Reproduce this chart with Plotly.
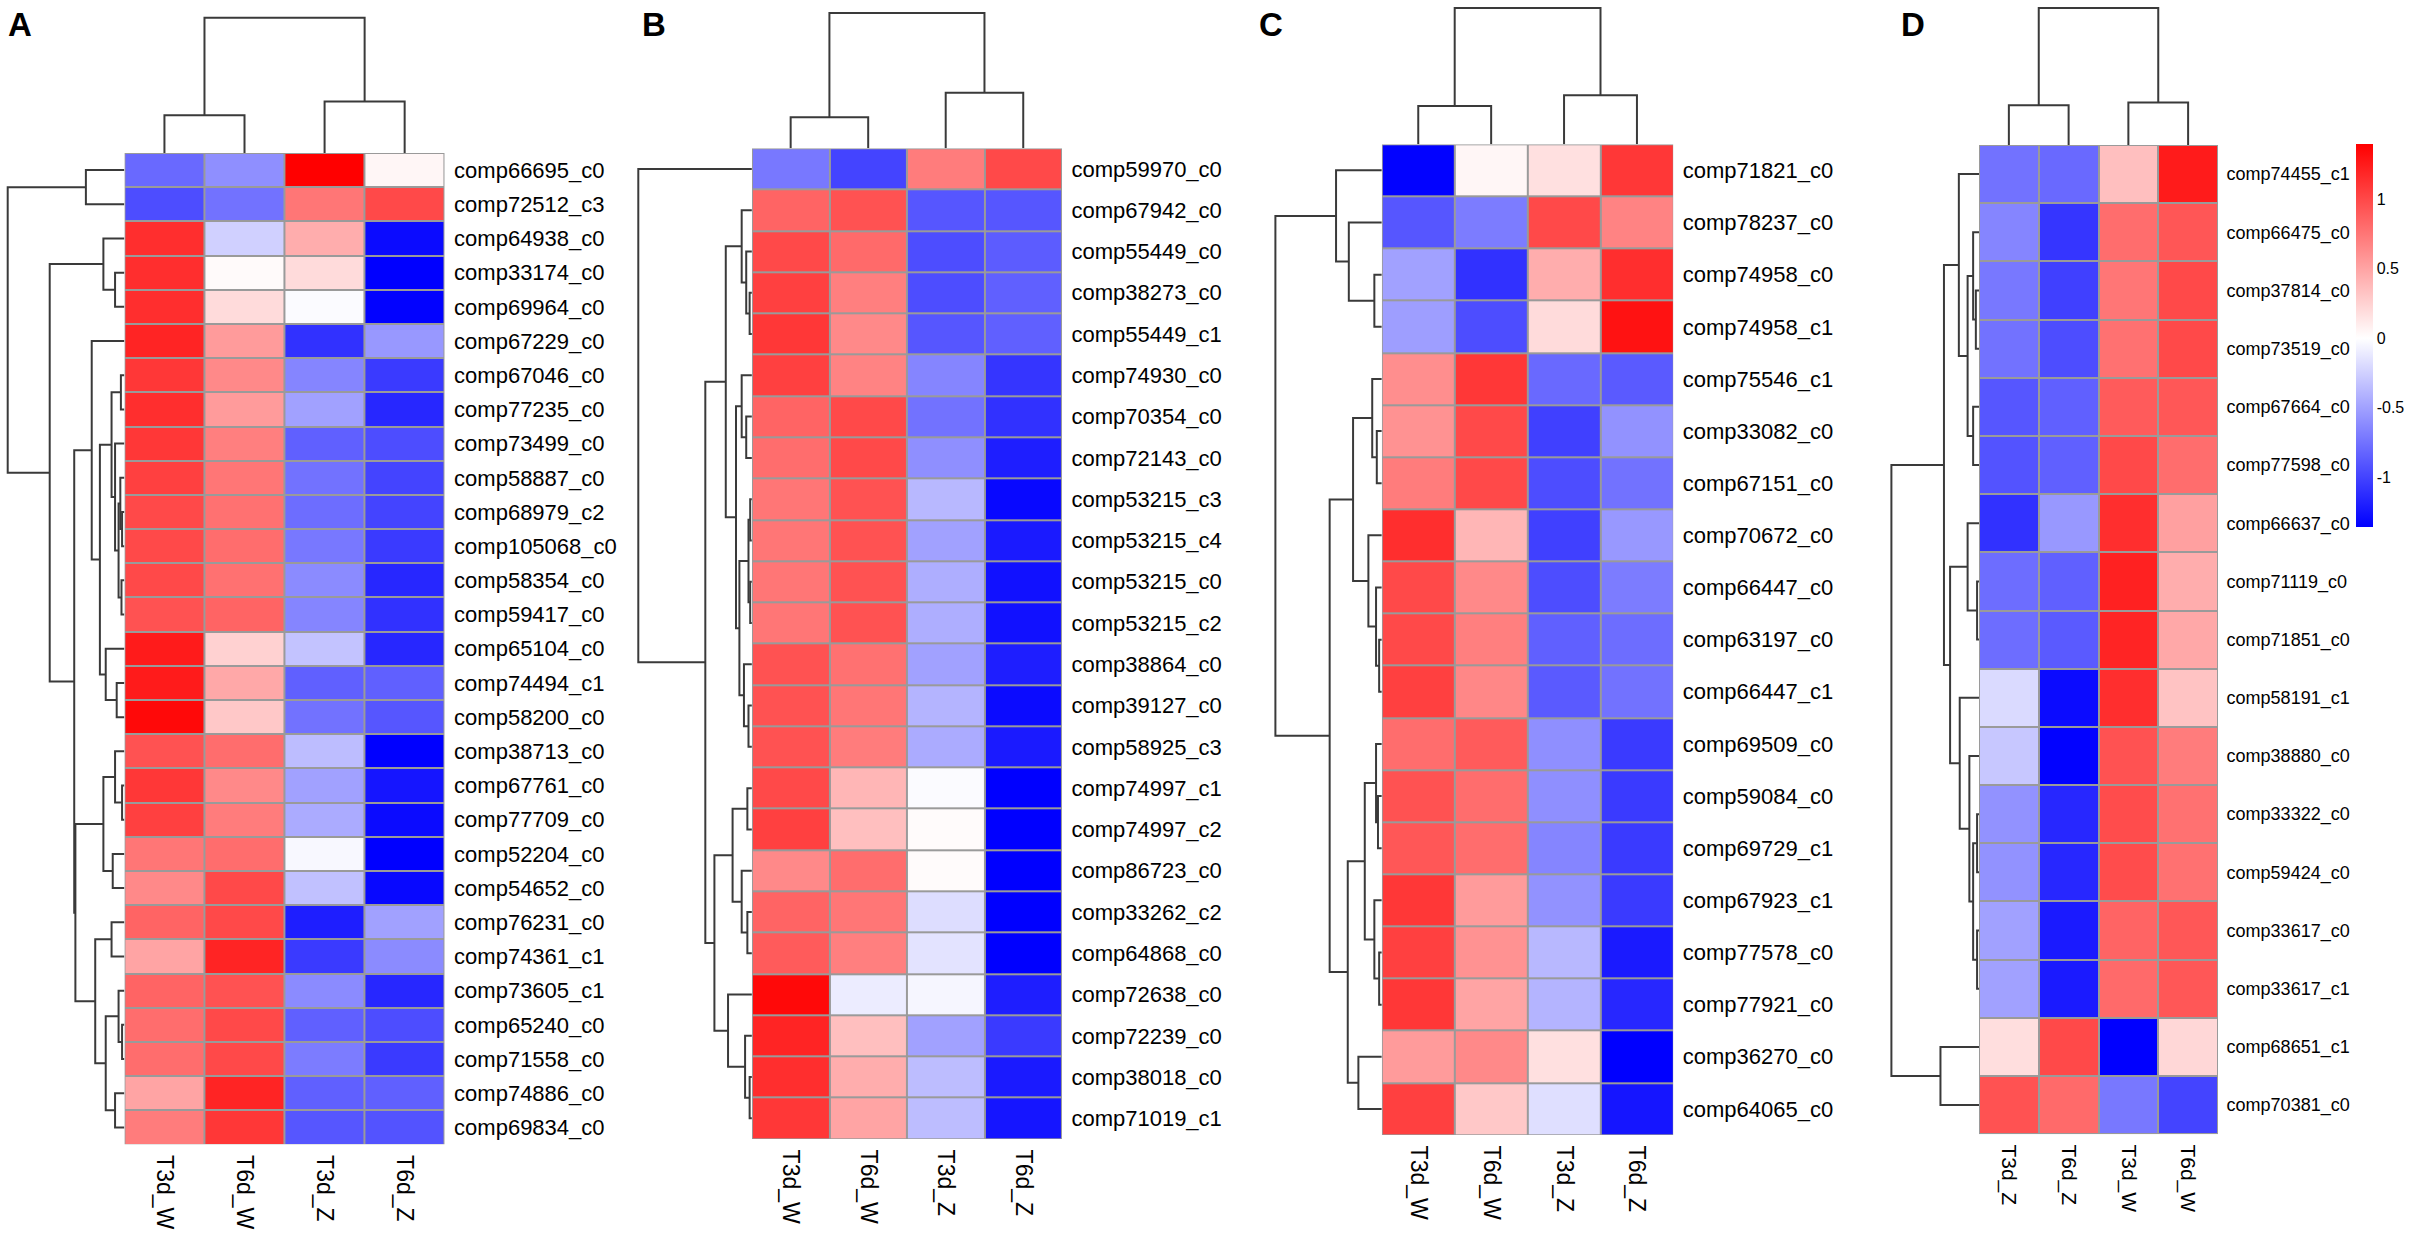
import plotly.graph_objects as go

W, H = 2410, 1243

# ---------------- data ----------------
cols_abc = ["T3d_W", "T6d_W", "T3d_Z", "T6d_Z"]
cols_d = ["T3d_Z", "T6d_Z", "T3d_W", "T6d_W"]

rows_a = ["comp66695_c0", "comp72512_c3", "comp64938_c0", "comp33174_c0", "comp69964_c0",
          "comp67229_c0", "comp67046_c0", "comp77235_c0", "comp73499_c0", "comp58887_c0",
          "comp68979_c2", "comp105068_c0", "comp58354_c0", "comp59417_c0", "comp65104_c0",
          "comp74494_c1", "comp58200_c0", "comp38713_c0", "comp67761_c0", "comp77709_c0",
          "comp52204_c0", "comp54652_c0", "comp76231_c0", "comp74361_c1", "comp73605_c1",
          "comp65240_c0", "comp71558_c0", "comp74886_c0", "comp69834_c0"]
vals_a = [[-0.8, -0.6, 1.4, 0.05], [-0.95, -0.75, 0.75, 1.0], [1.15, -0.25, 0.45, -1.3],
          [1.15, 0.03, 0.2, -1.38], [1.15, 0.2, -0.02, -1.35], [1.2, 0.55, -1.1, -0.55],
          [1.1, 0.65, -0.65, -1.05], [1.15, 0.55, -0.5, -1.15], [1.1, 0.7, -0.85, -0.95],
          [1.05, 0.75, -0.75, -1.0], [1.0, 0.78, -0.78, -1.0], [1.0, 0.8, -0.72, -1.05],
          [1.0, 0.78, -0.62, -1.15], [0.95, 0.85, -0.65, -1.1], [1.25, 0.25, -0.32, -1.15],
          [1.25, 0.48, -0.85, -0.85], [1.35, 0.3, -0.75, -0.9], [0.95, 0.8, -0.35, -1.38],
          [1.1, 0.65, -0.5, -1.25], [1.05, 0.72, -0.45, -1.3], [0.75, 0.8, -0.04, -1.4],
          [0.65, 1.0, -0.33, -1.32], [0.85, 1.0, -1.2, -0.5], [0.5, 1.2, -1.05, -0.62],
          [0.85, 0.95, -0.62, -1.15], [0.8, 1.0, -0.85, -0.95], [0.8, 1.0, -0.7, -1.05],
          [0.5, 1.2, -0.85, -0.85], [0.72, 1.1, -0.9, -0.92]]

rows_b = ["comp59970_c0", "comp67942_c0", "comp55449_c0", "comp38273_c0", "comp55449_c1",
          "comp74930_c0", "comp70354_c0", "comp72143_c0", "comp53215_c3", "comp53215_c4",
          "comp53215_c0", "comp53215_c2", "comp38864_c0", "comp39127_c0", "comp58925_c3",
          "comp74997_c1", "comp74997_c2", "comp86723_c0", "comp33262_c2", "comp64868_c0",
          "comp72638_c0", "comp72239_c0", "comp38018_c0", "comp71019_c1"]
vals_b = [[-0.72, -1.0, 0.72, 1.0], [0.85, 0.95, -0.9, -0.9], [1.0, 0.82, -0.95, -0.87],
          [1.05, 0.7, -0.95, -0.85], [1.1, 0.65, -0.9, -0.85], [1.05, 0.68, -0.65, -1.08],
          [0.85, 1.0, -0.75, -1.1], [0.8, 1.0, -0.6, -1.2], [0.75, 0.95, -0.38, -1.32],
          [0.75, 0.95, -0.5, -1.22], [0.75, 0.95, -0.43, -1.27], [0.75, 0.95, -0.43, -1.27],
          [0.95, 0.78, -0.5, -1.2], [0.95, 0.75, -0.4, -1.3], [0.95, 0.72, -0.45, -1.22],
          [1.0, 0.4, -0.02, -1.38], [1.05, 0.35, 0.02, -1.4], [0.65, 0.8, 0.02, -1.4],
          [0.85, 0.75, -0.18, -1.4], [0.9, 0.7, -0.15, -1.4], [1.35, -0.1, -0.05, -1.2],
          [1.2, 0.35, -0.5, -1.05], [1.15, 0.45, -0.35, -1.22], [1.1, 0.5, -0.35, -1.25]]

rows_c = ["comp71821_c0", "comp78237_c0", "comp74958_c0", "comp74958_c1", "comp75546_c1",
          "comp33082_c0", "comp67151_c0", "comp70672_c0", "comp66447_c0", "comp63197_c0",
          "comp66447_c1", "comp69509_c0", "comp59084_c0", "comp69729_c1", "comp67923_c1",
          "comp77578_c0", "comp77921_c0", "comp36270_c0", "comp64065_c0"]
vals_c = [[-1.35, 0.05, 0.17, 1.1], [-0.9, -0.7, 1.0, 0.68], [-0.5, -1.1, 0.45, 1.15],
          [-0.52, -0.95, 0.2, 1.3], [0.62, 1.1, -0.8, -0.88], [0.6, 1.0, -1.02, -0.58],
          [0.72, 1.0, -0.95, -0.75], [1.15, 0.4, -1.02, -0.55], [1.0, 0.65, -0.95, -0.7],
          [1.0, 0.7, -0.85, -0.78], [1.05, 0.66, -0.88, -0.75], [0.8, 0.9, -0.6, -1.05],
          [0.95, 0.8, -0.6, -1.05], [0.92, 0.8, -0.65, -1.05], [1.1, 0.55, -0.58, -1.05],
          [1.05, 0.6, -0.38, -1.22], [1.1, 0.5, -0.4, -1.15], [0.55, 0.65, 0.17, -1.4],
          [1.05, 0.3, -0.17, -1.25]]

rows_d = ["comp74455_c1", "comp66475_c0", "comp37814_c0", "comp73519_c0", "comp67664_c0",
          "comp77598_c0", "comp66637_c0", "comp71119_c0", "comp71851_c0", "comp58191_c1",
          "comp38880_c0", "comp33322_c0", "comp59424_c0", "comp33617_c0", "comp33617_c1",
          "comp68651_c1", "comp70381_c0"]
vals_d = [[-0.75, -0.8, 0.35, 1.25], [-0.65, -1.08, 0.8, 0.93], [-0.72, -1.02, 0.75, 1.0],
          [-0.75, -0.95, 0.78, 1.0], [-0.9, -0.85, 0.9, 0.92], [-0.92, -0.85, 1.0, 0.8],
          [-1.1, -0.55, 1.15, 0.52], [-0.78, -0.85, 1.22, 0.45], [-0.78, -0.88, 1.2, 0.48],
          [-0.2, -1.3, 1.15, 0.33], [-0.3, -1.35, 0.95, 0.72], [-0.58, -1.15, 0.98, 0.78],
          [-0.58, -1.15, 0.98, 0.78], [-0.5, -1.22, 0.85, 0.92], [-0.5, -1.22, 0.82, 0.92],
          [0.18, 1.0, -1.38, 0.22], [0.95, 0.82, -0.72, -1.0]]

# dendrograms as nested [height, left, right]; leaves are row/column indices
tree_rows_a = [1.0, [0.33, 0, 1],
               [0.64, [0.18, 2, [0.08, 3, 4]],
                [0.43,
                 [0.28, 5, [0.21,
                            [0.11, [0.03, 6, 7],
                             [0.08, 8, [0.05, [0.035, 9, [0.02, 10, 11]], [0.025, 12, 13]]]],
                            [0.16, 14, [0.066, 15, 16]]]],
                 [0.42,
                  [0.18, [0.08, 17, [0.02, 18, 19]], [0.1, 20, 21]],
                  [0.25, [0.11, 22, 23], [0.16, [0.05, 24, [0.02, 25, 26]], [0.08, 27, 28]]]]]]]
tree_rows_b = [1.0, 0,
               [0.41,
                [0.23, [0.09, 1, [0.05, 2, [0.02, 3, 4]]],
                 [0.14, [0.09, 5, [0.05, 6, 7]],
                  [0.11, [0.03, [0.015, 8, 9], [0.015, 10, 11]], [0.07, 12, [0.03, 13, 14]]]]],
                [0.33, [0.17, [0.04, 15, 16], [0.09, 17, [0.04, 18, 19]]],
                 [0.21, 20, [0.06, 21, [0.02, 22, 23]]]]]]
tree_rows_c = [1.0, [0.43, 0, [0.31, 1, [0.07, 2, 3]]],
               [0.49,
                [0.27, [0.09, 4, [0.047, 5, 6]], [0.126, 7, [0.054, 8, [0.025, 9, 10]]]],
                [0.32, [0.16, [0.054, 11, [0.036, 12, 13]], [0.07, 14, [0.025, 15, 16]]],
                 [0.22, 17, 18]]]]
tree_rows_d = [1.0,
               [0.4,
                [0.23, 0, [0.13, [0.067, 1, [0.036, 2, 3]], [0.067, 4, 5]]],
                [0.33, [0.13, 6, [0.022, 7, 8]],
                 [0.22, 9, [0.11, 10, [0.067, [0.022, 11, 12], [0.022, 13, 14]]]]]],
               [0.44, 15, 16]]
tree_cols_a = [1.0, [0.28, 0, 1], [0.38, 2, 3]]
tree_cols_b = [1.0, [0.23, 0, 1], [0.41, 2, 3]]
tree_cols_c = [1.0, [0.28, 0, 1], [0.36, 2, 3]]
tree_cols_d = [1.0, [0.29, 0, 1], [0.31, 2, 3]]

cbar_ticks = [-1, -0.5, 0, 0.5, 1]
ZMIN, ZMAX = -1.36, 1.40

# ---------------- layout geometry (pixels) ----------------
panels = [
    dict(letter="A", rows=rows_a, cols=cols_abc, z=vals_a, rtree=tree_rows_a, ctree=tree_cols_a,
         box=(124.4, 444.7, 153, 1144.5), ctop=17.8, rleft=7.7, lx=5.7, fs=22, cfs=23),
    dict(letter="B", rows=rows_b, cols=cols_abc, z=vals_b, rtree=tree_rows_b, ctree=tree_cols_b,
         box=(751.9, 1062, 148.3, 1139), ctop=13, rleft=638.3, lx=640, fs=22, cfs=23),
    dict(letter="C", rows=rows_c, cols=cols_abc, z=vals_c, rtree=tree_rows_c, ctree=tree_cols_c,
         box=(1381.8, 1673.4, 144.3, 1135), ctop=7.9, rleft=1275.4, lx=1257.4, fs=22, cfs=23),
    dict(letter="D", rows=rows_d, cols=cols_d, z=vals_d, rtree=tree_rows_d, ctree=tree_cols_d,
         box=(1979, 2218, 145, 1134.2), ctop=7.9, rleft=1891.4, lx=1899, fs=18, cfs=21),
]

FONT = "Liberation Sans, Arial, sans-serif"
LINE = dict(color="#3a3a3a", width=2)
GRID = "#9a9a9a"


def fx(p):
    return p / W


def fy(p):
    return 1 - p / H


def tree_lines(node):
    """Return (position, height, positions, heights) of U-shaped links."""
    if isinstance(node, int):
        return float(node), 0.0, [], []
    h, a, b = node
    pa, ha, sa, ta = tree_lines(a)
    pb, hb, sb, tb = tree_lines(b)
    pos = sa + sb + [pa, pa, pb, pb, None]
    hts = ta + tb + [ha, h, h, hb, None]
    return (pa + pb) / 2, h, pos, hts


mid = (0 - ZMIN) / (ZMAX - ZMIN)
cscale = [[0, "rgb(0,0,255)"], [mid, "rgb(255,255,255)"], [1, "rgb(255,0,0)"]]

fig = go.Figure()
shapes, annotations = [], []
layout_axes = {}

for k, p in enumerate(panels):
    hx, hy = f"x{2 * k + 1}", f"y{2 * k + 1}"      # heatmap axes
    dx, dy = f"x{2 * k + 2}", f"y{2 * k + 2}"      # row-dendro x, col-dendro y
    l, r, t, b = p["box"]
    nr, nc = len(p["rows"]), len(p["cols"])
    pad = 2

    fig.add_trace(go.Heatmap(
        z=p["z"], x=list(range(nc)), y=list(range(nr)), xaxis=hx, yaxis=hy,
        colorscale=cscale, zmin=ZMIN, zmax=ZMAX, xgap=2, ygap=2,
        showscale=(p["letter"] == "D"), hoverongaps=False,
        colorbar=dict(x=fx(2356), xanchor="left", xpad=0, y=fy(335.5), yanchor="middle",
                      ypad=0, len=383, lenmode="pixels", thickness=17, thicknessmode="pixels",
                      outlinewidth=0, tickvals=cbar_ticks, ticktext=[str(v) for v in cbar_ticks],
                      ticks="", tickfont=dict(family=FONT, size=16, color="black")),
    ))

    # row dendrogram
    _, root_h, pos, hts = tree_lines(p["rtree"])
    fig.add_trace(go.Scatter(x=hts, y=pos, xaxis=dx, yaxis=hy, mode="lines", line=LINE,
                             hoverinfo="skip", showlegend=False))
    # column dendrogram
    _, croot_h, cpos, chts = tree_lines(p["ctree"])
    fig.add_trace(go.Scatter(x=cpos, y=chts, xaxis=hx, yaxis=dy, mode="lines", line=LINE,
                             hoverinfo="skip", showlegend=False))

    rspan = l - p["rleft"]
    cspan = t - p["ctop"]
    hidden = dict(visible=False, showgrid=False, zeroline=False)
    layout_axes[f"xaxis{2 * k + 1}"] = dict(
        domain=[fx(l), fx(r)], range=[-0.5, nc - 0.5], anchor=hy,
        tickvals=list(range(nc)), ticktext=p["cols"], tickangle=90, ticks="outside",
        ticklen=5, tickcolor="rgba(0,0,0,0)", showgrid=False, zeroline=False, showline=False,
        tickfont=dict(family=FONT, size=p["cfs"], color="black"))
    layout_axes[f"yaxis{2 * k + 1}"] = dict(
        domain=[fy(b), fy(t)], range=[nr - 0.5, -0.5], anchor=hx, side="right",
        tickvals=list(range(nr)), ticktext=p["rows"], ticks="outside", ticklen=4,
        tickcolor="rgba(0,0,0,0)", showgrid=False, zeroline=False, showline=False,
        tickfont=dict(family=FONT, size=p["fs"], color="black"))
    layout_axes[f"xaxis{2 * k + 2}"] = dict(
        hidden, domain=[fx(p["rleft"] - pad), fx(l)],
        range=[root_h * (rspan + pad) / rspan, 0], anchor=hy)
    layout_axes[f"yaxis{2 * k + 2}"] = dict(
        hidden, domain=[fy(t), fy(p["ctop"] - pad)],
        range=[0, croot_h * (cspan + pad) / cspan], anchor=hx)

    # grey cell borders behind the heatmap
    shapes.append(dict(type="rect", xref=hx, yref=hy, x0=-0.5, x1=nc - 0.5, y0=-0.5,
                       y1=nr - 0.5, fillcolor=GRID, line=dict(width=0), layer="below"))
    annotations.append(dict(text=f"<b>{p['letter']}</b>", xref="paper", yref="paper",
                            x=fx(p["lx"]), y=fy(4), xanchor="left", yanchor="top",
                            showarrow=False, font=dict(family=FONT, size=33, color="black")))

fig.update_layout(
    width=W, height=H, margin=dict(l=0, r=0, t=0, b=0), autosize=False,
    paper_bgcolor="white", plot_bgcolor="rgba(0,0,0,0)", showlegend=False,
    shapes=shapes, annotations=annotations, **layout_axes,
)

fig.write_html("out.html", config={"displayModeBar": False},
               post_script="document.body.style.margin='0';"
                           "document.body.style.overflow='hidden';")
